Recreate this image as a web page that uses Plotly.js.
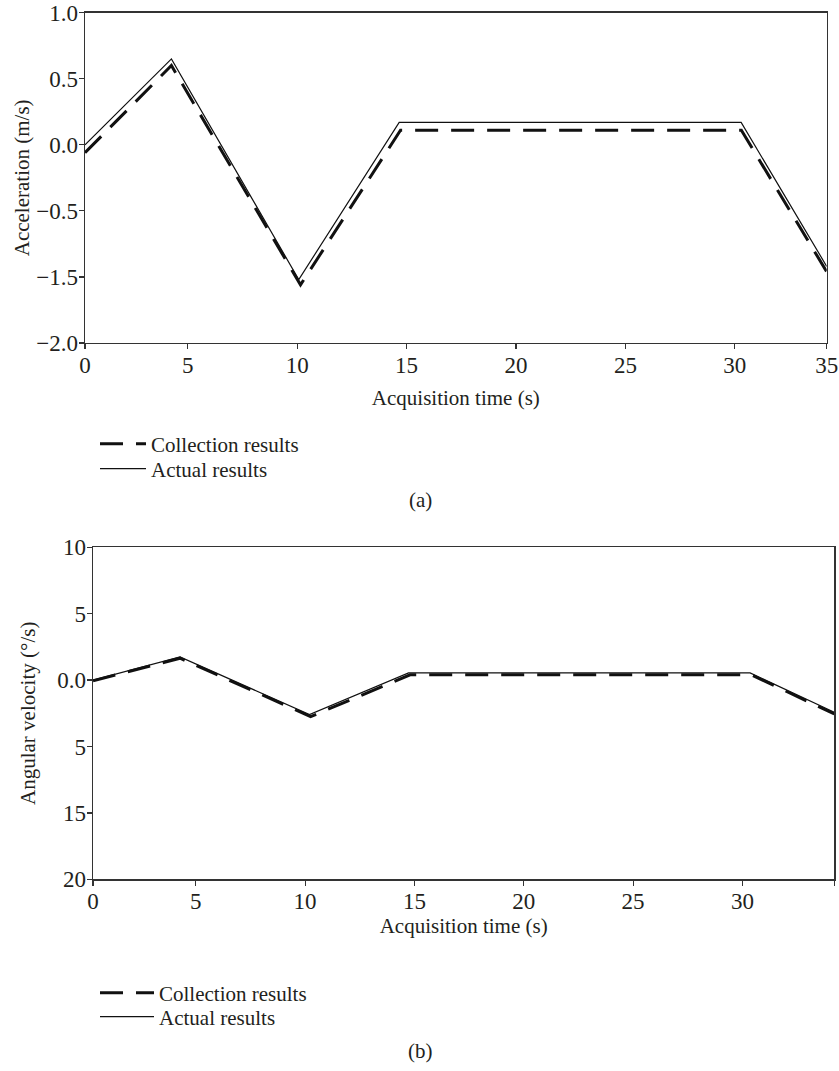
<!DOCTYPE html>
<html>
<head>
<meta charset="utf-8">
<script src="https://cdn.plot.ly/plotly-3.0.1.min.js"></script>
<style>
html,body{margin:0;padding:0;background:#fff;}
#chart{width:839px;height:1071px;}
</style>
</head>
<body>
<div id="chart"></div>
<script>
// Panel (a): acceleration
const timeA = [0.3, 4.25, 10.07, 14.66, 30.29, 34.2];
const actualA = [0.0, 0.65, -1.02, 0.17, 0.17, -0.92];
const timeACol = [0.3, 4.25, 10.15, 14.72, 30.3, 34.2];
const collectionA = [-0.06, 0.6, -1.06, 0.11, 0.11, -0.96];

// Panel (b): angular velocity
const timeB = [0.3, 4.28, 10.2, 14.73, 30.35, 34.2];
const actualB = [0.0, 1.75, -2.6, 0.54, 0.54, -2.42];
const timeBCol = [0.3, 4.28, 10.25, 14.8, 30.4, 34.2];
const collectionB = [-0.05, 1.65, -2.75, 0.4, 0.4, -2.55];

// Tick labels as printed in the figure
const xTickVals = [0.3, 5, 10, 15, 20, 25, 30, 34.2];
const xTickTextA = ['0', '5', '10', '15', '20', '25', '30', '35'];
const xTickTextB = ['0', '5', '10', '15', '20', '25', '30', ''];
const yTickValsA = [1, 0.5, 0, -0.5, -1, -1.5];
const yTickTextA = ['1.0', '0.5', '0.0', '\u22120.5', '\u22121.5', '\u22122.0'];
const yTickValsB = [10, 5, 0, -5, -10, -15];
const yTickTextB = ['10', '5', '0.0', '5', '15', '20'];

const seriesNames = ['Collection results', 'Actual results'];

const FONT = 'Liberation Serif, Times New Roman, serif';
const INK = '#231f20';
const W = 839, H = 1071;
const TXT = 21, TICK = 23;

const dashed = {color: '#111', width: 3, dash: '23px,13px'};
const solid = {color: '#111', width: 1.2};

const traces = [
  {x: timeACol, y: collectionA, name: seriesNames[0], mode: 'lines', xaxis: 'x', yaxis: 'y',
   line: dashed, legend: 'legend'},
  {x: timeA, y: actualA, name: seriesNames[1], mode: 'lines', xaxis: 'x', yaxis: 'y',
   line: solid, legend: 'legend3'},
  {x: timeBCol, y: collectionB, name: seriesNames[0], mode: 'lines', xaxis: 'x2', yaxis: 'y2',
   line: dashed, legend: 'legend2'},
  {x: timeB, y: actualB, name: seriesNames[1], mode: 'lines', xaxis: 'x2', yaxis: 'y2',
   line: solid, legend: 'legend4'}
];

const axisCommon = {
  showline: true, linecolor: '#333', linewidth: 1.3, mirror: true,
  ticks: 'outside', ticklen: 5, tickwidth: 1.2, tickcolor: '#333',
  showgrid: false, zeroline: false, fixedrange: true,
  tickfont: {family: FONT, size: TICK, color: INK},
  tickmode: 'array', ticklabelstandoff: -4
};

function legendAt(xpx, ypx, w) {
  return {
    x: xpx / W, y: 1 - ypx / H, xanchor: 'left', yanchor: 'middle',
    bgcolor: 'rgba(0,0,0,0)', borderwidth: 0,
    font: {family: FONT, size: TXT, color: INK}, itemwidth: w
  };
}

const layout = {
  width: W, height: H,
  margin: {l: 0, r: 0, t: 0, b: 0},
  paper_bgcolor: '#fff', plot_bgcolor: '#fff',
  font: {family: FONT, size: TXT, color: INK},
  showlegend: true,
  xaxis: Object.assign({}, axisCommon, {
    domain: [85 / W, 826.7 / W], range: [0.3, 34.2], anchor: 'y',
    tickvals: xTickVals, ticktext: xTickTextA,
    title: {text: 'Acquisition time (s)', font: {family: FONT, size: TXT, color: INK}, standoff: 13}
  }),
  yaxis: Object.assign({}, axisCommon, {
    domain: [1 - 343 / H, 1 - 12.7 / H], range: [-1.5, 1.0], anchor: 'x',
    tickvals: yTickValsA, ticktext: yTickTextA,
    title: {text: 'Acceleration (m/s)', font: {family: FONT, size: TXT, color: INK}, standoff: 1}
  }),
  xaxis2: Object.assign({}, axisCommon, {
    domain: [93 / W, 834.3 / W], range: [0.3, 34.2], anchor: 'y2',
    tickvals: xTickVals, ticktext: xTickTextB,
    title: {text: 'Acquisition time (s)', font: {family: FONT, size: TXT, color: INK}, standoff: 2}
  }),
  yaxis2: Object.assign({}, axisCommon, {
    domain: [1 - 879.3 / H, 1 - 547.3 / H], range: [-15, 10], anchor: 'x2',
    tickvals: yTickValsB, ticktext: yTickTextB,
    title: {text: 'Angular velocity (\u00b0/s)', font: {family: FONT, size: TXT, color: INK}, standoff: 16}
  }),
  legend: legendAt(95, 444, 46),
  legend3: legendAt(95, 469, 46),
  legend2: legendAt(95, 993, 54),
  legend4: legendAt(95, 1017, 54),
  annotations: [
    {text: '(a)', xref: 'paper', yref: 'paper', x: 420 / W, y: 1 - 500 / H,
     showarrow: false, xanchor: 'center', yanchor: 'middle', font: {family: FONT, size: TXT, color: INK}},
    {text: '(b)', xref: 'paper', yref: 'paper', x: 420 / W, y: 1 - 1051 / H,
     showarrow: false, xanchor: 'center', yanchor: 'middle', font: {family: FONT, size: TXT, color: INK}}
  ]
};

Plotly.newPlot('chart', traces, layout, {displayModeBar: false, staticPlot: true});
</script>
</body>
</html>
